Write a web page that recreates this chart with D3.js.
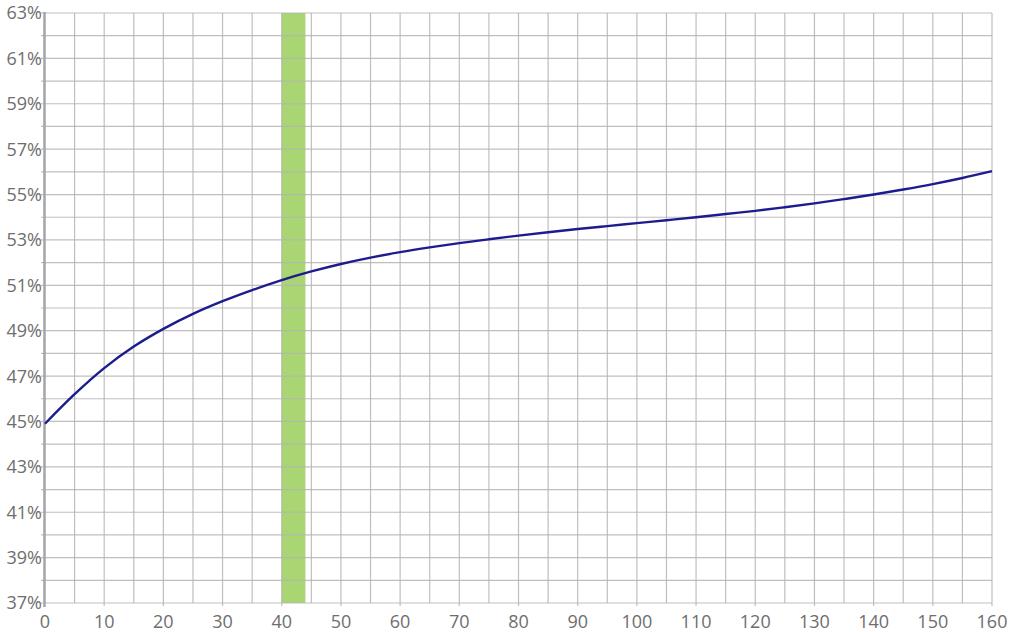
<!DOCTYPE html>
<html>
<head>
<meta charset="utf-8">
<script src="https://cdn.jsdelivr.net/npm/d3@7"></script>
<style>
  html, body { margin: 0; padding: 0; background: #fff; }
  svg { display: block; font-family: "Open Sans", sans-serif; }
</style>
</head>
<body>
<svg id="chart" width="1024" height="632"></svg>
<script>
const xValues = [0,5,10,15,20,25,30,35,40,45,50,55,60,65,70,75,80,85,90,95,100,105,110,115,120,125,130,135,140,145,150,155,160];
const yValues = [44.9,46.2,47.35,48.3,49.08,49.74,50.3,50.79,51.23,51.61,51.94,52.22,52.46,52.67,52.86,53.03,53.19,53.34,53.48,53.61,53.74,53.87,54.0,54.14,54.28,54.44,54.61,54.8,55.0,55.22,55.46,55.73,56.03];
const band = [40, 44];
const xTickLabels = [0,10,20,30,40,50,60,70,80,90,100,110,120,130,140,150,160];
const yTickLabels = [37,39,41,43,45,47,49,51,53,55,57,59,61,63];

(function(){
const svg = d3.select("#chart");
const pL = 45, pR = 992, pT = 13, pB = 603;

const x = d3.scaleLinear().domain([0,160]).range([pL,pR]);
const y = d3.scaleLinear().domain([37,63]).range([pB,pT]);

// band
svg.append("rect")
  .attr("x", x(band[0])).attr("y", pT)
  .attr("width", x(band[1]) - x(band[0])).attr("height", pB - pT)
  .attr("fill", "#a9d672");

// grid
const gridColor = "#b4b4b4";
const g = svg.append("g");
g.selectAll("line.v").data(d3.range(5,161,5)).join("line")
  .attr("x1", d => x(d)).attr("x2", d => x(d))
  .attr("y1", pT).attr("y2", d => d % 10 === 0 ? pB + 3 : pB)
  .attr("stroke", gridColor).attr("stroke-width", 1.2)
  .attr("stroke-opacity", 0.85);
g.selectAll("line.h").data(d3.range(37,64,1)).join("line")
  .attr("x1", pL - 4).attr("x2", pR)
  .attr("y1", d => y(d)).attr("y2", d => y(d))
  .attr("stroke", gridColor).attr("stroke-width", 1.2)
  .attr("stroke-opacity", 0.85);

// axis line
svg.append("line").attr("x1", pL - 0.5).attr("x2", pL - 0.5)
  .attr("y1", pT - 1).attr("y2", pB + 4)
  .attr("stroke", "#a5a5a5").attr("stroke-width", 2.5);

// labels
svg.append("g").selectAll("text").data(yTickLabels).join("text")
  .attr("x", 42).attr("y", d => y(d)).attr("dy", "0.36em")
  .attr("text-anchor", "end").attr("fill", "#6e6e6e")
  .attr("font-size", 18).text(d => d + "%");
svg.append("g").selectAll("text").data(xTickLabels).join("text")
  .attr("x", d => x(d)).attr("y", 628)
  .attr("text-anchor", "middle").attr("fill", "#6e6e6e")
  .attr("font-size", 18).text(d => d);

// line
const line = d3.line().x((d,i) => x(xValues[i])).y(d => y(d)).curve(d3.curveCatmullRom.alpha(0.5));
svg.append("path").datum(yValues).attr("d", line)
  .attr("fill", "none").attr("stroke", "#1c1c8f").attr("stroke-width", 2.4);
})();
</script>
</body>
</html>
